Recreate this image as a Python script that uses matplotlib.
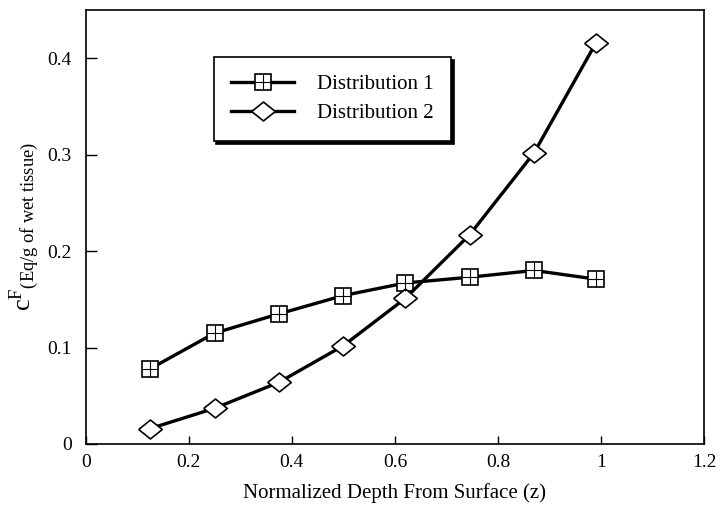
import matplotlib

matplotlib.use("Agg")
import matplotlib.pyplot as plt
from matplotlib.lines import Line2D
from matplotlib.ticker import FormatStrFormatter

# values
depth = [0.125, 0.25, 0.375, 0.5, 0.62, 0.745, 0.87, 0.99]
dist1 = [0.078, 0.115, 0.135, 0.154, 0.167, 0.173, 0.180, 0.171]
dist2 = [0.016, 0.037, 0.064, 0.102, 0.151, 0.217, 0.302, 0.416]
xticks = [0, 0.2, 0.4, 0.6, 0.8, 1, 1.2]
yticks = [0, 0.1, 0.2, 0.3, 0.4]

plt.rcParams.update({
    "font.family": "Liberation Serif",
    "mathtext.fontset": "custom",
    "mathtext.rm": "Liberation Serif",
    "mathtext.it": "Liberation Serif:italic",
    "font.size": 14,
})

# wide, flat diamond like the original
WIDE_D = [(-1, 0), (0, 0.8), (1, 0), (0, -0.8), (-1, 0)]

sq = dict(color="black", lw=2.4, marker="s", ms=11, mfc="white",
          mec="black", mew=1.2)
cross = dict(ls="none", marker="+", ms=11, mec="black", mew=0.8)
dia = dict(color="black", lw=2.4, marker=WIDE_D, ms=17, mfc="white",
           mec="black", mew=1.2)

fig = plt.figure(figsize=(7.2, 5.08), dpi=100)
ax = fig.add_axes([0.119, 0.126, 0.859, 0.854])

ax.plot(depth, dist1, zorder=3, **sq)
ax.plot(depth, dist1, zorder=4, **cross)
ax.plot(depth, dist2, zorder=3, **dia)

ax.set_xlim(0, 1.2)
ax.set_ylim(0, 0.45)
ax.set_xticks(xticks)
ax.set_yticks(yticks)
ax.xaxis.set_major_formatter(FormatStrFormatter("%g"))
ax.yaxis.set_major_formatter(FormatStrFormatter("%g"))
ax.tick_params(direction="in", length=8, width=1, labelsize=14)
ax.tick_params(axis="y", pad=10)
ax.tick_params(axis="x", length=6, pad=7)
for s in ax.spines.values():
    s.set_linewidth(1.2)

ax.set_xlabel("Normalized Depth From Surface (z)", fontsize=15, labelpad=9)
ax.set_ylabel(r"$\mathrm{c}^{\mathrm{F}}$" + r"$_{\mathrm{(Eq/g\ of\ wet\ tissue)}}$",
              fontsize=19, labelpad=4)

h1 = (Line2D([], [], **sq), Line2D([], [], **cross))
h2 = Line2D([], [], **dia)
leg = ax.legend([h1, h2], ["Distribution 1", "Distribution 2"],
                loc="upper left", bbox_to_anchor=(0.207, 0.892),
                borderaxespad=0, fancybox=False, edgecolor="black",
                framealpha=1, shadow={"color": "black", "alpha": 1},
                handlelength=3.0, borderpad=0.85, labelspacing=0.45,
                handletextpad=1.1, fontsize=15)
leg.get_frame().set_linewidth(1.2)

fig.savefig("out.png", dpi=100)
